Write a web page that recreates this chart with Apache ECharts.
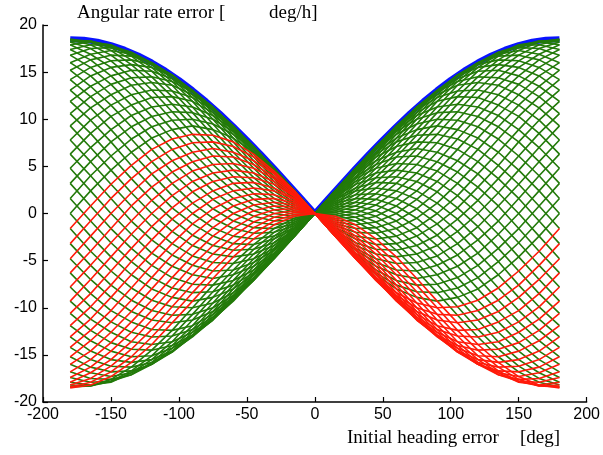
<!DOCTYPE html>
<html style="height: 100%;">
<head>
<meta charset="utf-8">
<title>Angular rate error vs initial heading error</title>
<script type="text/javascript" src="https://cdn.jsdelivr.net/npm/echarts@6/dist/echarts.min.js"></script>
</head>
<body style="height: 100%; margin: 0; background: #fff">
<div id="container" style="width: 603px; height: 455px"></div>
<script type="text/javascript">
// x positions (initial heading error, deg) shared by every curve
var headingError = [-180, -165, -150, -135, -120, -105, -90, -75, -60, -45, -30, -15, 0,
  15, 30, 45, 60, 75, 90, 105, 120, 135, 150, 165, 180];

// one row per initial heading, 0..85 deg (green)
var greenCurvesA = [
  [18.5, 18.2, 17.3, 15.8, 13.9, 11.6, 9.3, 6.9, 4.6, 2.7, 1.2, 0.3, 0, 0.3, 1.2, 2.7, 4.6, 6.9, 9.3, 11.6, 13.9, 15.8, 17.3, 18.2, 18.5],
  [18.4, 17.9, 16.8, 15.2, 13.1, 10.8, 8.4, 6.1, 3.9, 2.1, 0.8, 0.1, 0, 0.5, 1.6, 3.3, 5.3, 7.6, 10.0, 12.4, 14.5, 16.3, 17.6, 18.3, 18.4],
  [18.2, 17.5, 16.2, 14.4, 12.3, 9.9, 7.5, 5.2, 3.2, 1.5, 0.4, -0.1, 0, 0.7, 2.0, 3.8, 6.0, 8.3, 10.7, 13.0, 15.1, 16.7, 17.8, 18.3, 18.2],
  [17.9, 16.9, 15.5, 13.6, 11.3, 8.9, 6.5, 4.3, 2.4, 0.9, 0, -0.3, 0, 0.9, 2.4, 4.3, 6.5, 8.9, 11.3, 13.6, 15.5, 16.9, 17.9, 18.2, 17.9],
  [17.4, 16.3, 14.6, 12.6, 10.3, 7.9, 5.5, 3.4, 1.6, 0.3, -0.4, -0.5, 0, 1.1, 2.7, 4.8, 7.1, 9.5, 11.9, 14.0, 15.8, 17.1, 17.8, 17.9, 17.4],
  [16.8, 15.5, 13.7, 11.5, 9.2, 6.8, 4.5, 2.4, 0.8, -0.3, -0.8, -0.7, 0, 1.3, 3.1, 5.2, 7.6, 10.0, 12.3, 14.3, 16.0, 17.1, 17.6, 17.5, 16.8],
  [16.0, 14.6, 12.6, 10.4, 8.0, 5.6, 3.4, 1.5, 0, -0.9, -1.2, -0.9, 0, 1.5, 3.4, 5.6, 8.0, 10.4, 12.6, 14.6, 16.0, 16.9, 17.3, 16.9, 16.0],
  [15.2, 13.5, 11.5, 9.2, 6.8, 4.4, 2.3, 0.5, -0.8, -1.5, -1.6, -1.1, 0, 1.6, 3.7, 6.0, 8.4, 10.7, 12.9, 14.7, 16.0, 16.7, 16.8, 16.3, 15.2],
  [14.2, 12.4, 10.3, 7.9, 5.5, 3.2, 1.1, -0.5, -1.6, -2.1, -2.0, -1.3, 0, 1.8, 3.9, 6.3, 8.7, 11.0, 13.0, 14.7, 15.8, 16.3, 16.2, 15.5, 14.2],
  [13.1, 11.2, 8.9, 6.5, 4.2, 1.9, 0, -1.5, -2.4, -2.7, -2.4, -1.5, 0, 1.9, 4.2, 6.5, 8.9, 11.2, 13.1, 14.6, 15.5, 15.8, 15.5, 14.6, 13.1],
  [11.9, 9.9, 7.6, 5.1, 2.8, 0.6, -1.1, -2.4, -3.2, -3.3, -2.7, -1.6, 0, 2.0, 4.3, 6.8, 9.1, 11.3, 13.0, 14.3, 15.1, 15.2, 14.6, 13.5, 11.9],
  [10.6, 8.5, 6.1, 3.7, 1.4, -0.6, -2.3, -3.4, -3.9, -3.8, -3.1, -1.8, 0, 2.2, 4.5, 6.9, 9.2, 11.3, 12.9, 14.0, 14.5, 14.4, 13.7, 12.4, 10.6],
  [9.3, 7.0, 4.6, 2.2, 0, -1.9, -3.4, -4.3, -4.6, -4.3, -3.4, -1.9, 0, 2.2, 4.6, 7.0, 9.3, 11.2, 12.6, 13.6, 13.9, 13.6, 12.6, 11.2, 9.3],
  [7.8, 5.5, 3.1, 0.8, -1.4, -3.2, -4.5, -5.2, -5.3, -4.8, -3.7, -2.0, 0, 2.3, 4.7, 7.1, 9.2, 11.0, 12.3, 13.0, 13.1, 12.6, 11.5, 9.9, 7.8],
  [6.3, 4.0, 1.6, -0.8, -2.8, -4.4, -5.5, -6.1, -6.0, -5.2, -3.9, -2.2, 0, 2.4, 4.8, 7.1, 9.1, 10.7, 11.9, 12.4, 12.3, 11.5, 10.3, 8.5, 6.3],
  [4.8, 2.4, 0, -2.2, -4.2, -5.6, -6.5, -6.9, -6.5, -5.6, -4.2, -2.2, 0, 2.4, 4.8, 7.0, 8.9, 10.4, 11.3, 11.6, 11.3, 10.4, 8.9, 7.0, 4.8],
  [3.2, 0.8, -1.6, -3.7, -5.5, -6.8, -7.5, -7.6, -7.1, -6.0, -4.3, -2.3, 0, 2.4, 4.8, 6.9, 8.7, 10.0, 10.7, 10.8, 10.3, 9.2, 7.6, 5.5, 3.2],
  [1.6, -0.8, -3.1, -5.1, -6.8, -7.9, -8.4, -8.3, -7.6, -6.3, -4.5, -2.4, 0, 2.4, 4.7, 6.8, 8.4, 9.5, 10.0, 9.9, 9.2, 7.9, 6.1, 4.0, 1.6]
];

// initial heading 90..175 deg (green)
var greenCurvesB = [
  [0, -2.4, -4.6, -6.5, -8.0, -8.9, -9.3, -8.9, -8.0, -6.5, -4.6, -2.4, 0, 2.4, 4.6, 6.5, 8.0, 8.9, 9.3, 8.9, 8.0, 6.5, 4.6, 2.4, 0],
  [-1.6, -4.0, -6.1, -7.9, -9.2, -9.9, -10.0, -9.5, -8.4, -6.8, -4.7, -2.4, 0, 2.4, 4.5, 6.3, 7.6, 8.3, 8.4, 7.9, 6.8, 5.1, 3.1, 0.8, -1.6],
  [-3.2, -5.5, -7.6, -9.2, -10.3, -10.8, -10.7, -10.0, -8.7, -6.9, -4.8, -2.4, 0, 2.3, 4.3, 6.0, 7.1, 7.6, 7.5, 6.8, 5.5, 3.7, 1.6, -0.8, -3.2],
  [-4.8, -7.0, -8.9, -10.4, -11.3, -11.6, -11.3, -10.4, -8.9, -7.0, -4.8, -2.4, 0, 2.2, 4.2, 5.6, 6.5, 6.9, 6.5, 5.6, 4.2, 2.2, 0, -2.4, -4.8],
  [-6.3, -8.5, -10.3, -11.5, -12.3, -12.4, -11.9, -10.7, -9.1, -7.1, -4.8, -2.4, 0, 2.2, 3.9, 5.2, 6.0, 6.1, 5.5, 4.4, 2.8, 0.8, -1.6, -4.0, -6.3],
  [-7.8, -9.9, -11.5, -12.6, -13.1, -13.0, -12.3, -11.0, -9.2, -7.1, -4.7, -2.3, 0, 2.0, 3.7, 4.8, 5.3, 5.2, 4.5, 3.2, 1.4, -0.8, -3.1, -5.5, -7.8],
  [-9.3, -11.2, -12.6, -13.6, -13.9, -13.6, -12.6, -11.2, -9.3, -7.0, -4.6, -2.2, 0, 1.9, 3.4, 4.3, 4.6, 4.3, 3.4, 1.9, 0, -2.2, -4.6, -7.0, -9.3],
  [-10.6, -12.4, -13.7, -14.4, -14.5, -14.0, -12.9, -11.3, -9.2, -6.9, -4.5, -2.2, 0, 1.8, 3.1, 3.8, 3.9, 3.4, 2.3, 0.6, -1.4, -3.7, -6.1, -8.5, -10.6],
  [-11.9, -13.5, -14.6, -15.2, -15.1, -14.3, -13.0, -11.3, -9.1, -6.8, -4.3, -2.0, 0, 1.6, 2.7, 3.3, 3.2, 2.4, 1.1, -0.6, -2.8, -5.1, -7.6, -9.9, -11.9],
  [-13.1, -14.6, -15.5, -15.8, -15.5, -14.6, -13.1, -11.2, -8.9, -6.5, -4.2, -1.9, 0, 1.5, 2.4, 2.7, 2.4, 1.5, 0, -1.9, -4.2, -6.5, -8.9, -11.2, -13.1],
  [-14.2, -15.5, -16.2, -16.3, -15.8, -14.7, -13.0, -11.0, -8.7, -6.3, -3.9, -1.8, 0, 1.3, 2.0, 2.1, 1.6, 0.5, -1.1, -3.2, -5.5, -7.9, -10.3, -12.4, -14.2],
  [-15.2, -16.3, -16.8, -16.7, -16.0, -14.7, -12.9, -10.7, -8.4, -6.0, -3.7, -1.6, 0, 1.1, 1.6, 1.5, 0.8, -0.5, -2.3, -4.4, -6.8, -9.2, -11.5, -13.5, -15.2],
  [-16.0, -16.9, -17.3, -16.9, -16.0, -14.6, -12.6, -10.4, -8.0, -5.6, -3.4, -1.5, 0, 0.9, 1.2, 0.9, 0, -1.5, -3.4, -5.6, -8.0, -10.4, -12.6, -14.6, -16.0],
  [-16.8, -17.5, -17.6, -17.1, -16.0, -14.3, -12.3, -10.0, -7.6, -5.2, -3.1, -1.3, 0, 0.7, 0.8, 0.3, -0.8, -2.4, -4.5, -6.8, -9.2, -11.5, -13.7, -15.5, -16.8],
  [-17.4, -17.9, -17.8, -17.1, -15.8, -14.0, -11.9, -9.5, -7.1, -4.8, -2.7, -1.1, 0, 0.5, 0.4, -0.3, -1.6, -3.4, -5.5, -7.9, -10.3, -12.6, -14.6, -16.3, -17.4],
  [-17.9, -18.2, -17.9, -16.9, -15.5, -13.6, -11.3, -8.9, -6.5, -4.3, -2.4, -0.9, 0, 0.3, 0, -0.9, -2.4, -4.3, -6.5, -8.9, -11.3, -13.6, -15.5, -16.9, -17.9],
  [-18.2, -18.3, -17.8, -16.7, -15.1, -13.0, -10.7, -8.3, -6.0, -3.8, -2.0, -0.7, 0, 0.1, -0.4, -1.5, -3.2, -5.2, -7.5, -9.9, -12.3, -14.4, -16.2, -17.5, -18.2],
  [-18.4, -18.3, -17.6, -16.3, -14.5, -12.4, -10.0, -7.6, -5.3, -3.3, -1.6, -0.5, 0, -0.1, -0.8, -2.1, -3.9, -6.1, -8.4, -10.8, -13.1, -15.2, -16.8, -17.9, -18.4]
];

// initial heading 180..265 deg (red)
var redCurves = [
  [-18.5, -18.2, -17.3, -15.8, -13.9, -11.6, -9.3, -6.9, -4.6, -2.7, -1.2, -0.3, 0, -0.3, -1.2, -2.7, -4.6, -6.9, -9.3, -11.6, -13.9, -15.8, -17.3, -18.2, -18.5],
  [-18.4, -17.9, -16.8, -15.2, -13.1, -10.8, -8.4, -6.1, -3.9, -2.1, -0.8, -0.1, 0, -0.5, -1.6, -3.3, -5.3, -7.6, -10.0, -12.4, -14.5, -16.3, -17.6, -18.3, -18.4],
  [-18.2, -17.5, -16.2, -14.4, -12.3, -9.9, -7.5, -5.2, -3.2, -1.5, -0.4, 0.1, 0, -0.7, -2.0, -3.8, -6.0, -8.3, -10.7, -13.0, -15.1, -16.7, -17.8, -18.3, -18.2],
  [-17.9, -16.9, -15.5, -13.6, -11.3, -8.9, -6.5, -4.3, -2.4, -0.9, 0, 0.3, 0, -0.9, -2.4, -4.3, -6.5, -8.9, -11.3, -13.6, -15.5, -16.9, -17.9, -18.2, -17.9],
  [-17.4, -16.3, -14.6, -12.6, -10.3, -7.9, -5.5, -3.4, -1.6, -0.3, 0.4, 0.5, 0, -1.1, -2.7, -4.8, -7.1, -9.5, -11.9, -14.0, -15.8, -17.1, -17.8, -17.9, -17.4],
  [-16.8, -15.5, -13.7, -11.5, -9.2, -6.8, -4.5, -2.4, -0.8, 0.3, 0.8, 0.7, 0, -1.3, -3.1, -5.2, -7.6, -10.0, -12.3, -14.3, -16.0, -17.1, -17.6, -17.5, -16.8],
  [-16.0, -14.6, -12.6, -10.4, -8.0, -5.6, -3.4, -1.5, 0, 0.9, 1.2, 0.9, 0, -1.5, -3.4, -5.6, -8.0, -10.4, -12.6, -14.6, -16.0, -16.9, -17.3, -16.9, -16.0],
  [-15.2, -13.5, -11.5, -9.2, -6.8, -4.4, -2.3, -0.5, 0.8, 1.5, 1.6, 1.1, 0, -1.6, -3.7, -6.0, -8.4, -10.7, -12.9, -14.7, -16.0, -16.7, -16.8, -16.3, -15.2],
  [-14.2, -12.4, -10.3, -7.9, -5.5, -3.2, -1.1, 0.5, 1.6, 2.1, 2.0, 1.3, 0, -1.8, -3.9, -6.3, -8.7, -11.0, -13.0, -14.7, -15.8, -16.3, -16.2, -15.5, -14.2],
  [-13.1, -11.2, -8.9, -6.5, -4.2, -1.9, 0, 1.5, 2.4, 2.7, 2.4, 1.5, 0, -1.9, -4.2, -6.5, -8.9, -11.2, -13.1, -14.6, -15.5, -15.8, -15.5, -14.6, -13.1],
  [-11.9, -9.9, -7.6, -5.1, -2.8, -0.6, 1.1, 2.4, 3.2, 3.3, 2.7, 1.6, 0, -2.0, -4.3, -6.8, -9.1, -11.3, -13.0, -14.3, -15.1, -15.2, -14.6, -13.5, -11.9],
  [-10.6, -8.5, -6.1, -3.7, -1.4, 0.6, 2.3, 3.4, 3.9, 3.8, 3.1, 1.8, 0, -2.2, -4.5, -6.9, -9.2, -11.3, -12.9, -14.0, -14.5, -14.4, -13.7, -12.4, -10.6],
  [-9.3, -7.0, -4.6, -2.2, 0, 1.9, 3.4, 4.3, 4.6, 4.3, 3.4, 1.9, 0, -2.2, -4.6, -7.0, -9.3, -11.2, -12.6, -13.6, -13.9, -13.6, -12.6, -11.2, -9.3],
  [-7.8, -5.5, -3.1, -0.8, 1.4, 3.2, 4.5, 5.2, 5.3, 4.8, 3.7, 2.0, 0, -2.3, -4.7, -7.1, -9.2, -11.0, -12.3, -13.0, -13.1, -12.6, -11.5, -9.9, -7.8],
  [-6.3, -4.0, -1.6, 0.8, 2.8, 4.4, 5.5, 6.1, 6.0, 5.2, 3.9, 2.2, 0, -2.4, -4.8, -7.1, -9.1, -10.7, -11.9, -12.4, -12.3, -11.5, -10.3, -8.5, -6.3],
  [-4.8, -2.4, 0, 2.2, 4.2, 5.6, 6.5, 6.9, 6.5, 5.6, 4.2, 2.2, 0, -2.4, -4.8, -7.0, -8.9, -10.4, -11.3, -11.6, -11.3, -10.4, -8.9, -7.0, -4.8],
  [-3.2, -0.8, 1.6, 3.7, 5.5, 6.8, 7.5, 7.6, 7.1, 6.0, 4.3, 2.3, 0, -2.4, -4.8, -6.9, -8.7, -10.0, -10.7, -10.8, -10.3, -9.2, -7.6, -5.5, -3.2],
  [-1.6, 0.8, 3.1, 5.1, 6.8, 7.9, 8.4, 8.3, 7.6, 6.3, 4.5, 2.4, 0, -2.4, -4.7, -6.8, -8.4, -9.5, -10.0, -9.9, -9.2, -7.9, -6.1, -4.0, -1.6]
];

// initial heading 270..355 deg (green)
var greenCurvesC = [
  [0, 2.4, 4.6, 6.5, 8.0, 8.9, 9.3, 8.9, 8.0, 6.5, 4.6, 2.4, 0, -2.4, -4.6, -6.5, -8.0, -8.9, -9.3, -8.9, -8.0, -6.5, -4.6, -2.4, 0],
  [1.6, 4.0, 6.1, 7.9, 9.2, 9.9, 10.0, 9.5, 8.4, 6.8, 4.7, 2.4, 0, -2.4, -4.5, -6.3, -7.6, -8.3, -8.4, -7.9, -6.8, -5.1, -3.1, -0.8, 1.6],
  [3.2, 5.5, 7.6, 9.2, 10.3, 10.8, 10.7, 10.0, 8.7, 6.9, 4.8, 2.4, 0, -2.3, -4.3, -6.0, -7.1, -7.6, -7.5, -6.8, -5.5, -3.7, -1.6, 0.8, 3.2],
  [4.8, 7.0, 8.9, 10.4, 11.3, 11.6, 11.3, 10.4, 8.9, 7.0, 4.8, 2.4, 0, -2.2, -4.2, -5.6, -6.5, -6.9, -6.5, -5.6, -4.2, -2.2, 0, 2.4, 4.8],
  [6.3, 8.5, 10.3, 11.5, 12.3, 12.4, 11.9, 10.7, 9.1, 7.1, 4.8, 2.4, 0, -2.2, -3.9, -5.2, -6.0, -6.1, -5.5, -4.4, -2.8, -0.8, 1.6, 4.0, 6.3],
  [7.8, 9.9, 11.5, 12.6, 13.1, 13.0, 12.3, 11.0, 9.2, 7.1, 4.7, 2.3, 0, -2.0, -3.7, -4.8, -5.3, -5.2, -4.5, -3.2, -1.4, 0.8, 3.1, 5.5, 7.8],
  [9.3, 11.2, 12.6, 13.6, 13.9, 13.6, 12.6, 11.2, 9.3, 7.0, 4.6, 2.2, 0, -1.9, -3.4, -4.3, -4.6, -4.3, -3.4, -1.9, 0, 2.2, 4.6, 7.0, 9.3],
  [10.6, 12.4, 13.7, 14.4, 14.5, 14.0, 12.9, 11.3, 9.2, 6.9, 4.5, 2.2, 0, -1.8, -3.1, -3.8, -3.9, -3.4, -2.3, -0.6, 1.4, 3.7, 6.1, 8.5, 10.6],
  [11.9, 13.5, 14.6, 15.2, 15.1, 14.3, 13.0, 11.3, 9.1, 6.8, 4.3, 2.0, 0, -1.6, -2.7, -3.3, -3.2, -2.4, -1.1, 0.6, 2.8, 5.1, 7.6, 9.9, 11.9],
  [13.1, 14.6, 15.5, 15.8, 15.5, 14.6, 13.1, 11.2, 8.9, 6.5, 4.2, 1.9, 0, -1.5, -2.4, -2.7, -2.4, -1.5, 0, 1.9, 4.2, 6.5, 8.9, 11.2, 13.1],
  [14.2, 15.5, 16.2, 16.3, 15.8, 14.7, 13.0, 11.0, 8.7, 6.3, 3.9, 1.8, 0, -1.3, -2.0, -2.1, -1.6, -0.5, 1.1, 3.2, 5.5, 7.9, 10.3, 12.4, 14.2],
  [15.2, 16.3, 16.8, 16.7, 16.0, 14.7, 12.9, 10.7, 8.4, 6.0, 3.7, 1.6, 0, -1.1, -1.6, -1.5, -0.8, 0.5, 2.3, 4.4, 6.8, 9.2, 11.5, 13.5, 15.2],
  [16.0, 16.9, 17.3, 16.9, 16.0, 14.6, 12.6, 10.4, 8.0, 5.6, 3.4, 1.5, 0, -0.9, -1.2, -0.9, 0, 1.5, 3.4, 5.6, 8.0, 10.4, 12.6, 14.6, 16.0],
  [16.8, 17.5, 17.6, 17.1, 16.0, 14.3, 12.3, 10.0, 7.6, 5.2, 3.1, 1.3, 0, -0.7, -0.8, -0.3, 0.8, 2.4, 4.5, 6.8, 9.2, 11.5, 13.7, 15.5, 16.8],
  [17.4, 17.9, 17.8, 17.1, 15.8, 14.0, 11.9, 9.5, 7.1, 4.8, 2.7, 1.1, 0, -0.5, -0.4, 0.3, 1.6, 3.4, 5.5, 7.9, 10.3, 12.6, 14.6, 16.3, 17.4],
  [17.9, 18.2, 17.9, 16.9, 15.5, 13.6, 11.3, 8.9, 6.5, 4.3, 2.4, 0.9, 0, -0.3, 0, 0.9, 2.4, 4.3, 6.5, 8.9, 11.3, 13.6, 15.5, 16.9, 17.9],
  [18.2, 18.3, 17.8, 16.7, 15.1, 13.0, 10.7, 8.3, 6.0, 3.8, 2.0, 0.7, 0, -0.1, 0.4, 1.5, 3.2, 5.2, 7.5, 9.9, 12.3, 14.4, 16.2, 17.5, 18.2],
  [18.4, 18.3, 17.6, 16.3, 14.5, 12.4, 10.0, 7.6, 5.3, 3.3, 1.6, 0.5, 0, 0.1, 0.8, 2.1, 3.9, 6.1, 8.4, 10.8, 13.1, 15.2, 16.8, 17.9, 18.4]
];

// upper envelope (blue)
var envelopeX = [-180, -170, -160, -150, -140, -130, -120, -110, -100, -90, -80, -70, -60, -50, -40, -30, -20, -10, 0,
  10, 20, 30, 40, 50, 60, 70, 80, 90, 100, 110, 120, 130, 140, 150, 160, 170, 180];
var envelopeY = [18.5, 18.43, 18.22, 17.87, 17.38, 16.77, 16.02, 15.16, 14.17, 13.08, 11.89, 10.61, 9.25, 7.82, 6.33, 4.79, 3.21, 1.61, 0,
  1.61, 3.21, 4.79, 6.33, 7.82, 9.25, 10.61, 11.89, 13.08, 14.17, 15.16, 16.02, 16.77, 17.38, 17.87, 18.22, 18.43, 18.5];

var GREEN = '#237a0a';
var RED = '#ff1a0a';
var BLUE = '#0a14ff';

function curveSeries(rows, color, z) {
  return rows.map(function (row) {
    return {
      type: 'line',
      data: headingError.map(function (x, i) { return [x, row[i]]; }),
      symbol: 'none',
      silent: true,
      z: z,
      lineStyle: { color: color, width: 1.6 }
    };
  });
}

// blue envelope sits under the green family, so only its outer edge shows
var series = [{
  type: 'line',
  data: envelopeX.map(function (x, i) { return [x, envelopeY[i]]; }),
  symbol: 'none',
  silent: true,
  z: 1,
  lineStyle: { color: BLUE, width: 6 }
}];
series = series
  .concat(curveSeries(greenCurvesA, GREEN, 2))
  .concat(curveSeries(greenCurvesB, GREEN, 2))
  .concat(curveSeries(greenCurvesC, GREEN, 2))
  .concat(curveSeries(redCurves, RED, 3));

var tickFont = { color: '#000', fontSize: 16, fontFamily: 'Liberation Sans, Arial, sans-serif' };
var titleFont = 'Liberation Serif, Times New Roman, serif';

var myChart = echarts.init(document.getElementById('container'));
myChart.setOption({
  animation: false,
  backgroundColor: '#fff',
  grid: { left: 43, right: 14, top: 25, bottom: 53 },
  xAxis: {
    type: 'value', min: -200, max: 200, interval: 50,
    axisLine: { onZero: false, lineStyle: { color: '#000', width: 1.5 } },
    axisTick: { inside: true, length: 5, lineStyle: { color: '#000', width: 1.2 } },
    axisLabel: Object.assign({ margin: 5 }, tickFont),
    splitLine: { show: false }
  },
  yAxis: {
    type: 'value', min: -20, max: 20, interval: 5,
    axisLine: { show: true, onZero: false, lineStyle: { color: '#000', width: 1.5 } },
    axisTick: { show: true, inside: true, length: 5, lineStyle: { color: '#000', width: 1.2 } },
    axisLabel: Object.assign({ margin: 6 }, tickFont),
    splitLine: { show: false }
  },
  graphic: [
    { type: 'text', left: 77, top: 4, style: { text: 'Angular rate error [', font: '19px ' + titleFont, fill: '#000' } },
    { type: 'text', left: 269, top: 4, style: { text: 'deg/h]', font: '19px ' + titleFont, fill: '#000' } },
    { type: 'text', left: 347, top: 429, style: { text: 'Initial heading error', font: '19px ' + titleFont, fill: '#000' } },
    { type: 'text', left: 520, top: 429, style: { text: '[deg]', font: '19px ' + titleFont, fill: '#000' } }
  ],
  series: series
});
</script>
</body>
</html>
